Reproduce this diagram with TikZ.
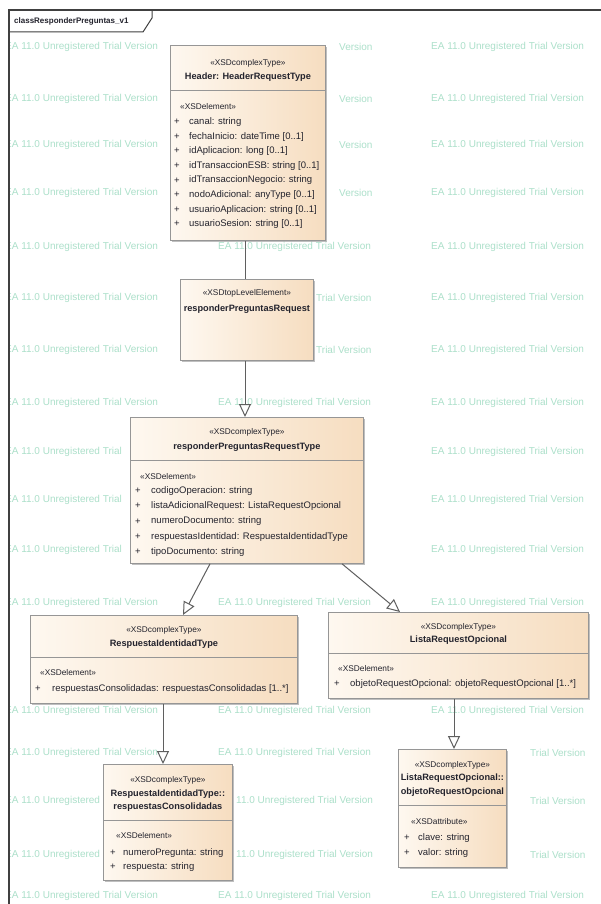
\documentclass[tikz,border=0pt]{standalone}
\usepackage{fontspec}
\setmainfont{Liberation Sans}
\usetikzlibrary{arrows.meta,shadows}
\definecolor{boxline}{RGB}{150,150,150}
\definecolor{boxL}{RGB}{254,248,240}
\definecolor{boxR}{RGB}{246,221,192}
\definecolor{txt}{RGB}{35,35,45}
\definecolor{wm}{RGB}{172,224,202}
\definecolor{conn}{RGB}{95,95,95}
\tikzset{
 umlbox/.style={draw=boxline, line width=0.8pt, left color=boxL, right color=boxR, anchor=north west, inner sep=0pt,
   drop shadow={shadow xshift=2pt, shadow yshift=-2pt, fill=black, opacity=0.25}},
 stereo/.style={font=\fontsize{8.3}{10}\selectfont, text=txt, inner sep=0pt},
 title/.style={font=\fontsize{9.2}{11}\selectfont\bfseries, text=txt, inner sep=0pt},
 item/.style={font=\fontsize{9.5}{11}\selectfont, text=txt, inner sep=0pt, anchor=west},
 stitem/.style={font=\fontsize{8.3}{10}\selectfont, text=txt, inner sep=0pt, anchor=west},
 divider/.style={draw=boxline, line width=0.7pt},
 gen/.style={draw=conn, line width=1pt, -{Triangle[open, length=13pt, width=12pt, fill=white]}},
 assoc/.style={draw=conn, line width=1pt},
 wmark/.style={font=\fontsize{10}{12}\selectfont, text=wm, inner sep=0pt, anchor=west},
}
\begin{document}
\begin{tikzpicture}[x=1pt,y=-1pt]
\useasboundingbox (0,0) rectangle (600,904);
\fill[white] (0,0) rectangle (600,904);
% watermark (only the parts not hidden by the boxes)
\begin{scope}
\clip (10,11) rectangle (600,904);
\foreach \wx/\wy/\wt [count=\k] in {
  5/47/{EA 11.0 Unregistered Trial Version}, 339/47/{Version}, 431/47/{EA 11.0 Unregistered Trial Version},
  5/99/{EA 11.0 Unregistered Trial Version}, 339/99/{Version}, 431/99/{EA 11.0 Unregistered Trial Version},
  5/145/{EA 11.0 Unregistered Trial Version}, 339/145/{Version}, 431/145/{EA 11.0 Unregistered Trial Version},
  5/193/{EA 11.0 Unregistered Trial Version}, 339/193/{Version}, 431/193/{EA 11.0 Unregistered Trial Version},
  5/247/{EA 11.0 Unregistered Trial Version}, 218/247/{EA 11.0 Unregistered Trial Version}, 431/247/{EA 11.0 Unregistered Trial Version},
  5/298/{EA 11.0 Unregistered Trial Version}, 316/298/{Trial Version}, 431/298/{EA 11.0 Unregistered Trial Version},
  5/350/{EA 11.0 Unregistered Trial Version}, 316/350/{Trial Version}, 431/350/{EA 11.0 Unregistered Trial Version},
  5/403/{EA 11.0 Unregistered Trial Version}, 218/403/{EA 11.0 Unregistered Trial Version}, 431/403/{EA 11.0 Unregistered Trial Version},
  5/452/{EA 11.0 Unregistered Trial}, 431/452/{EA 11.0 Unregistered Trial Version},
  5/500/{EA 11.0 Unregistered Trial}, 431/500/{EA 11.0 Unregistered Trial Version},
  5/550/{EA 11.0 Unregistered Trial}, 431/550/{EA 11.0 Unregistered Trial Version},
  5/603/{EA 11.0 Unregistered Trial Version}, 218/603/{EA 11.0 Unregistered Trial Version}, 431/603/{EA 11.0 Unregistered Trial Version},
  5/711/{EA 11.0 Unregistered Trial Version}, 218/711/{EA 11.0 Unregistered Trial Version}, 431/711/{EA 11.0 Unregistered Trial Version},
  5/753/{EA 11.0 Unregistered Trial Version}, 218/753/{EA 11.0 Unregistered Trial Version}, 530/753/{Trial Version},
  5/801/{EA 11.0 Unregistered}, 236/801/{11.0 Unregistered Trial Version}, 530/801/{Trial Version},
  5/855/{EA 11.0 Unregistered}, 236/855/{11.0 Unregistered Trial Version}, 530/855/{Trial Version},
  5/896/{EA 11.0 Unregistered Trial Version}, 218/896/{EA 11.0 Unregistered Trial Version}, 431/896/{EA 11.0 Unregistered Trial Version}}{
  \node[wmark] (wm-\k) at (\wx,\wy) {\wt};
}
\end{scope}
% frame
\draw[line width=1.5pt, black!75] (9,906) -- (9,10) -- (602,10);
\draw[line width=1pt, black!75] (9,32) -- (143,32) -- (152,18) -- (152,10);
\node[font=\fontsize{8}{9}\selectfont\bfseries, text=txt, anchor=west, inner sep=0pt] (tab) at (14,21) {classResponderPreguntas\_v1};

% Header box
\node[umlbox, minimum width=155pt, minimum height=195pt] (hdr) at (170,45) {};
\draw[divider] (hdr.west |- 0,90) -- (hdr.east |- 0,90);
\node[stereo] (hdr-s) at (hdr.north |- 0,63) {«XSDcomplexType»};
\node[title] (hdr-t) at (hdr.north |- 0,77) {Header: HeaderRequestType};
\node[stitem] (hdr-e) at (180,107) {«XSDelement»};
\foreach \t [count=\i] in {{canal: string},{fechaInicio: dateTime [0..1]},{idAplicacion: long [0..1]},{idTransaccionESB: string [0..1]},{idTransaccionNegocio: string},{nodoAdicional: anyType [0..1]},{usuarioAplicacion: string [0..1]},{usuarioSesion: string [0..1]}}{
  \node[item] (hdr-p\i) at (174,{122+14.6*(\i-1)}) {+};
  \node[item] (hdr-i\i) at (189,{122+14.6*(\i-1)}) {\t};
}

% responderPreguntasRequest
\node[umlbox, minimum width=133pt, minimum height=81pt] (req) at (180,279) {};
\node[stereo] (req-s) at (req.north |- 0,293) {«XSDtopLevelElement»};
\node[title] (req-t) at (req.north |- 0,309) {responderPreguntasRequest};

% responderPreguntasRequestType
\node[umlbox, minimum width=233pt, minimum height=146pt] (rt) at (130,417) {};
\draw[divider] (rt.west |- 0,460) -- (rt.east |- 0,460);
\node[stereo] (rt-s) at (rt.north |- 0,432) {«XSDcomplexType»};
\node[title] (rt-t) at (rt.north |- 0,447) {responderPreguntasRequestType};
\node[stitem] (rt-e) at (140,477) {«XSDelement»};
\foreach \t [count=\i] in {{codigoOperacion: string},{listaAdicionalRequest: ListaRequestOpcional},{numeroDocumento: string},{respuestasIdentidad: RespuestaIdentidadType},{tipoDocumento: string}}{
  \node[item] (rt-p\i) at (135,{491+15.2*(\i-1)}) {+};
  \node[item] (rt-i\i) at (151,{491+15.2*(\i-1)}) {\t};
}

% RespuestaIdentidadType
\node[umlbox, minimum width=267pt, minimum height=88pt] (ri) at (30,615) {};
\draw[divider] (ri.west |- 0,657) -- (ri.east |- 0,657);
\node[stereo] (ri-s) at (ri.north |- 0,630) {«XSDcomplexType»};
\node[title] (ri-t) at (ri.north |- 0,644) {RespuestaIdentidadType};
\node[stitem] (ri-e) at (40,673) {«XSDelement»};
\node[item] (ri-p1) at (35,689) {+};
\node[item] (ri-i1) at (52,689) {respuestasConsolidadas: respuestasConsolidadas [1..*]};

% ListaRequestOpcional
\node[umlbox, minimum width=260pt, minimum height=86pt] (lo) at (328,612) {};
\draw[divider] (lo.west |- 0,653) -- (lo.east |- 0,653);
\node[stereo] (lo-s) at (lo.north |- 0,627) {«XSDcomplexType»};
\node[title] (lo-t) at (lo.north |- 0,640) {ListaRequestOpcional};
\node[stitem] (lo-e) at (338,669) {«XSDelement»};
\node[item] (lo-p1) at (334,684) {+};
\node[item] (lo-i1) at (350,684) {objetoRequestOpcional: objetoRequestOpcional [1..*]};

% RespuestaIdentidadType::respuestasConsolidadas
\node[umlbox, minimum width=129pt, minimum height=116pt] (rc) at (103,764) {};
\draw[divider] (rc.west |- 0,820) -- (rc.east |- 0,820);
\node[stereo] (rc-s) at (rc.north |- 0,780) {«XSDcomplexType»};
\node[title] (rc-t1) at (rc.north |- 0,794) {RespuestaIdentidadType::};
\node[title] (rc-t2) at (rc.north |- 0,807) {respuestasConsolidadas};
\node[stitem] (rc-e) at (116,836) {«XSDelement»};
\node[item] (rc-p1) at (110,853) {+};
\node[item] (rc-i1) at (123,853) {numeroPregunta: string};
\node[item] (rc-p2) at (110,867) {+};
\node[item] (rc-i2) at (123,867) {respuesta: string};

% ListaRequestOpcional::objetoRequestOpcional
\node[umlbox, minimum width=108pt, minimum height=118pt] (oo) at (398,749) {};
\draw[divider] (oo.west |- 0,805) -- (oo.east |- 0,805);
\node[stereo] (oo-s) at (oo.north |- 0,765) {«XSDcomplexType»};
\node[title] (oo-t1) at (oo.north |- 0,778) {ListaRequestOpcional::};
\node[title] (oo-t2) at (oo.north |- 0,792) {objetoRequestOpcional};
\node[stitem] (oo-e) at (411,822) {«XSDattribute»};
\node[item] (oo-p1) at (404,838) {+};
\node[item] (oo-i1) at (418,838) {clave: string};
\node[item] (oo-p2) at (404,853) {+};
\node[item] (oo-i2) at (418,853) {valor: string};

% connectors
\draw[assoc] (hdr.south -| 245,0) -- (req.north -| 245,0);
\draw[gen] (req.south -| 245,0) -- (rt.north -| 245,0);
\draw[gen] (rt.south -| 210,0) -- (ri.north -| 183,0);
\draw[gen] (rt.south -| 342,0) -- (lo.north -| 400,0);
\draw[gen] (ri.south -| 163,0) -- (rc.north -| 163,0);
\draw[gen] (lo.south -| 454,0) -- (oo.north -| 454,0);
\end{tikzpicture}
\end{document}
